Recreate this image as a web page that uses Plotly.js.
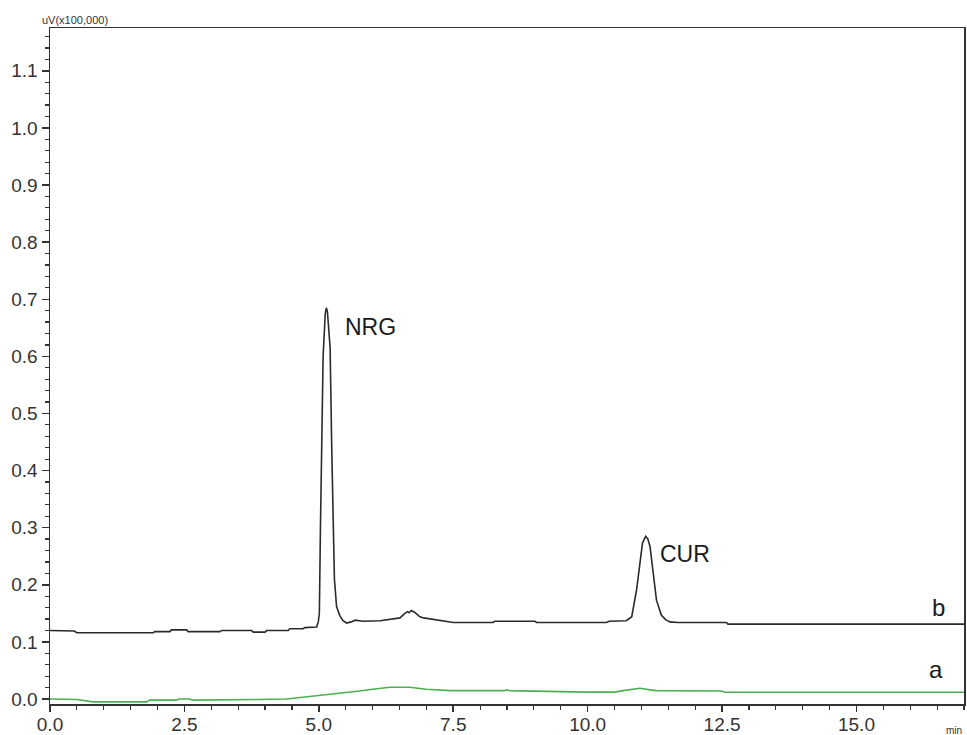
<!DOCTYPE html>
<html>
<head>
<meta charset="utf-8">
<script src="https://cdn.plot.ly/plotly-3.0.1.min.js"></script>
<style>html,body{margin:0;padding:0;background:#fff;}#chart{width:967px;height:735px;}</style>
</head>
<body>
<div id="chart"></div>
<script>
// Trace b (sample, black)
const bTime = [0.00,0.45,0.50,1.92,1.95,2.23,2.26,2.54,2.57,3.16,3.19,3.75,3.78,4.00,4.03,4.43,4.46,4.71,4.74,4.96,4.99,5.01,5.03,5.06,5.08,5.12,5.14,5.16,5.21,5.24,5.27,5.29,5.33,5.39,5.45,5.52,5.60,5.68,5.76,5.83,6.14,6.30,6.51,6.60,6.65,6.68,6.72,6.78,6.88,6.95,7.07,7.25,7.50,8.24,8.27,9.02,9.05,10.35,10.40,10.72,10.82,10.91,10.97,11.02,11.08,11.12,11.16,11.22,11.28,11.37,11.45,11.53,11.68,12.58,12.61,17.00];
const bSignal = [0.120,0.119,0.116,0.116,0.118,0.118,0.121,0.121,0.118,0.118,0.120,0.120,0.117,0.117,0.120,0.120,0.123,0.123,0.125,0.126,0.135,0.150,0.300,0.450,0.600,0.675,0.685,0.678,0.615,0.440,0.290,0.210,0.162,0.146,0.137,0.133,0.135,0.138,0.137,0.136,0.137,0.139,0.142,0.150,0.153,0.151,0.155,0.152,0.144,0.142,0.140,0.137,0.134,0.134,0.136,0.136,0.134,0.134,0.136,0.137,0.144,0.191,0.238,0.273,0.285,0.280,0.267,0.214,0.173,0.147,0.139,0.135,0.134,0.134,0.131,0.131];
// Trace a (blank, green)
const aTime = [0.00,0.50,0.80,1.80,1.85,2.35,2.40,2.60,2.65,3.50,3.84,4.40,4.70,5.08,5.39,5.76,6.00,6.32,6.69,7.00,7.44,8.45,8.49,8.55,9.98,10.50,10.66,10.97,11.16,11.28,12.49,12.55,17.00];
const aSignal = [0.000,-0.001,-0.005,-0.005,-0.002,-0.002,0.000,0.000,-0.002,-0.002,-0.001,0.000,0.003,0.007,0.009,0.014,0.017,0.0205,0.0205,0.017,0.0146,0.0146,0.016,0.0146,0.012,0.012,0.0146,0.0187,0.016,0.0146,0.014,0.0117,0.0117];
const peakLabels = ["NRG","CUR"];
const peakLabelX = [5.45,11.31];
const peakLabelY = [0.651,0.254];
const traceLabels = ["b","a"];
const traceLabelX = [16.53,16.47];
const traceLabelY = [0.161,0.051];

const FONT = "Liberation Sans, Arial, sans-serif";
const data = [
  {x: bTime, y: bSignal, type: "scatter", mode: "lines", line: {color: "#2b2b2b", width: 1.6}, hoverinfo: "skip"},
  {x: aTime, y: aSignal, type: "scatter", mode: "lines", line: {color: "#4cb050", width: 1.6}, hoverinfo: "skip"}
];
const annotations = [];
peakLabels.forEach((t,i)=>annotations.push({x: peakLabelX[i], y: peakLabelY[i], xref:"x", yref:"y", text: t, showarrow:false, xanchor:"left", yanchor:"middle", font:{family:FONT, size:23, color:"#1a1a1a"}}));
traceLabels.forEach((t,i)=>annotations.push({x: traceLabelX[i], y: traceLabelY[i], xref:"x", yref:"y", text: t, showarrow:false, xanchor:"center", yanchor:"middle", font:{family:FONT, size:24, color:"#1a1a1a"}}));
annotations.push({x:-0.011, y:1.012, xref:"paper", yref:"paper", text:"uV(x100,000)", showarrow:false, xanchor:"left", yanchor:"middle", font:{family:FONT, size:11, color:"#333"}});
annotations.push({x:0.9995, y:-0.0385, xref:"paper", yref:"paper", text:"min", showarrow:false, xanchor:"right", yanchor:"middle", font:{family:FONT, size:10, color:"#333"}});

const layout = {
  width: 967, height: 735,
  margin: {l: 50, r: 3, t: 28, b: 31, pad: 0},
  paper_bgcolor: "#fff", plot_bgcolor: "#fff",
  showlegend: false,
  font: {family: FONT, size: 19, color: "#333"},
  xaxis: {
    range: [0, 17], showgrid: false, zeroline: false,
    showline: true, linecolor: "#333", linewidth: 1.5, mirror: true,
    tickmode: "linear", tick0: 0, dtick: 2.5, tickformat: ".1f",
    ticks: "outside", ticklen: 6, tickwidth: 1.5, tickcolor: "#333",
    ticklabelstandoff: -3,
    minor: {dtick: 0.5, tick0: 0, ticks: "outside", ticklen: 4, tickwidth: 1.2, tickcolor: "#333", showgrid: false},
    tickfont: {family: FONT, size: 19, color: "#333"}
  },
  yaxis: {
    range: [-0.0088, 1.175], showgrid: false, zeroline: false,
    showline: true, linecolor: "#333", linewidth: 1.5, mirror: true,
    tickmode: "linear", tick0: 0, dtick: 0.1, tickformat: ".1f",
    ticks: "outside", ticklen: 7, tickwidth: 1.5, tickcolor: "#333",
    minor: {dtick: 0.02, tick0: 0, ticks: "outside", ticklen: 4, tickwidth: 1.2, tickcolor: "#333", showgrid: false},
    tickfont: {family: FONT, size: 19, color: "#333"}
  },
  annotations: annotations
};
Plotly.newPlot("chart", data, layout, {displayModeBar: false, staticPlot: true});
</script>
</body>
</html>
